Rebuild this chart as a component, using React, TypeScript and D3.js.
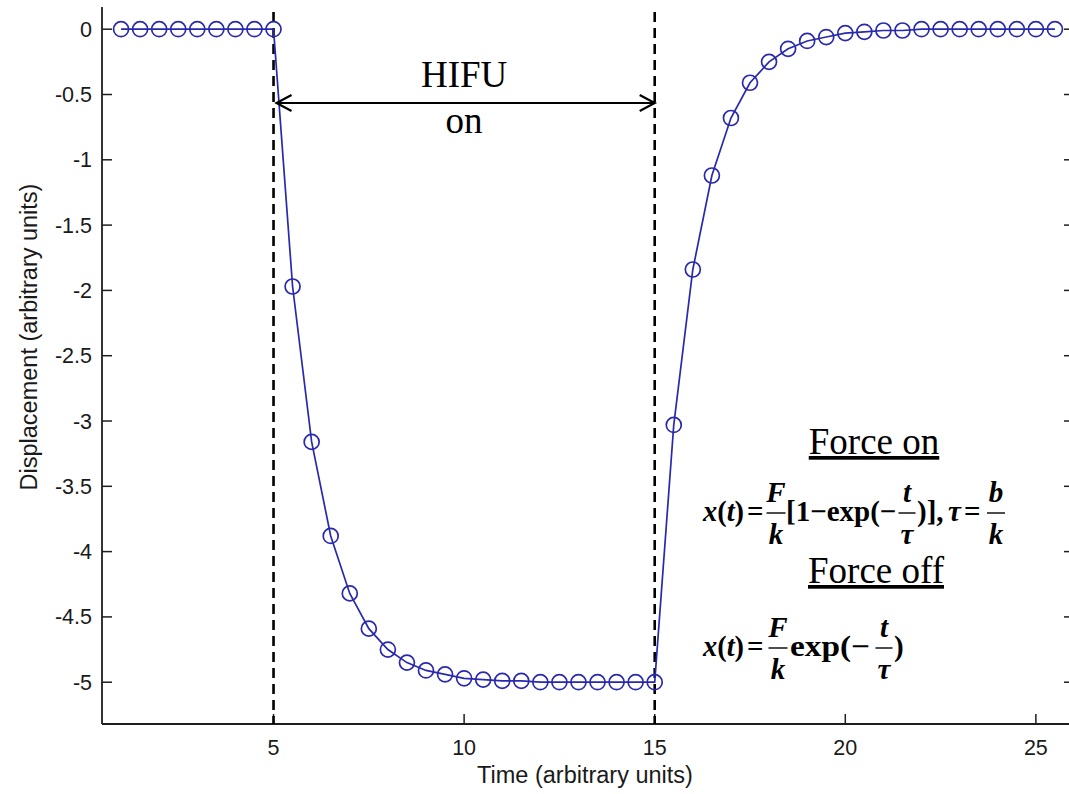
import React from "react";
import * as d3 from "d3";

// sample times (arbitrary units) and displacement
const times = [
  1, 1.5, 2, 2.5, 3, 3.5, 4, 4.5, 5,
  5.5, 6, 6.5, 7, 7.5, 8, 8.5, 9, 9.5, 10, 10.5, 11, 11.5, 12, 12.5, 13, 13.5, 14, 14.5, 15,
  15.5, 16, 16.5, 17, 17.5, 18, 18.5, 19, 19.5, 20, 20.5, 21, 21.5, 22, 22.5, 23, 23.5, 24, 24.5, 25, 25.5,
];
const displacement = [
  0, 0, 0, 0, 0, 0, 0, 0, 0,
  -1.97, -3.16, -3.88, -4.32, -4.59, -4.75, -4.85, -4.91, -4.94, -4.97, -4.98, -4.99, -4.99, -5, -5, -5, -5, -5, -5, -5,
  -3.03, -1.84, -1.12, -0.68, -0.41, -0.25, -0.15, -0.09, -0.06, -0.03, -0.02, -0.01, -0.01, 0, 0, 0, 0, 0, 0, 0, 0,
];
const xTicks = [5, 10, 15, 20, 25];
const yTicks = [0, -0.5, -1, -1.5, -2, -2.5, -3, -3.5, -4, -4.5, -5];
const hifuOn = 5;
const hifuOff = 15;

const W = 1069;
const H = 794;

const x = d3.scaleLinear().domain([0.5, 26]).range([102, 1074]);
const y = d3.scaleLinear().domain([-5.32, 0.17]).range([724, 7]);

const blue = "#2929ad";
const axisCol = "#1e1e1e";
const sans = "'Liberation Sans', Arial, sans-serif";
const serif = "'Liberation Serif', 'Times New Roman', serif";

const Frac = ({ cx, base, num, den, w }: { cx: number; base: number; num: string; den: string; w: number }) => (
  <g>
    <text x={cx} y={base - 19} textAnchor="middle" fontStyle="italic">{num}</text>
    <line x1={cx - w / 2} x2={cx + w / 2} y1={base - 8} y2={base - 8} stroke="#000" strokeWidth={1.4} />
    <text x={cx} y={base + 23} textAnchor="middle" fontStyle="italic">{den}</text>
  </g>
);

const XofT = ({ base }: { base: number }) => (
  <>
    <text x={703} y={base} textLength={41} lengthAdjust="spacingAndGlyphs">
      <tspan fontStyle="italic">x</tspan>(<tspan fontStyle="italic">t</tspan>)
    </text>
    <text x={747} y={base}>=</text>
  </>
);

export default function App() {
  const line = d3
    .line<number>()
    .x((_, i) => x(times[i]))
    .y((d) => y(d));

  const top = y.range()[1];
  const bottom = y.range()[0];
  const left = x.range()[0];
  const right = x.range()[1];
  const arrowY = 103;
  const ax1 = x(hifuOn) + 3;
  const ax2 = x(hifuOff);

  const B1 = 521;
  const B2 = 656;

  return (
    <svg width={W} height={H} style={{ position: "absolute", left: 0, top: 0, background: "#fff" }}>
      <rect width={W} height={H} fill="#fff" />

      {/* axes */}
      <line x1={left} x2={left} y1={top} y2={bottom} stroke={axisCol} strokeWidth={1.8} />
      <line x1={left} x2={right} y1={bottom} y2={bottom} stroke={axisCol} strokeWidth={1.8} />
      <line x1={right} x2={right} y1={top} y2={bottom} stroke={axisCol} strokeWidth={1.8} />

      {yTicks.map((t) => (
        <g key={"y" + t}>
          <line x1={left} x2={left + 10} y1={y(t)} y2={y(t)} stroke={axisCol} strokeWidth={1.5} />
          <line x1={right - 10} x2={right} y1={y(t)} y2={y(t)} stroke={axisCol} strokeWidth={1.5} />
          <text x={92} y={y(t) + 7.5} textAnchor="end" fontFamily={sans} fontSize={21.5} fill="#1a1a1a">
            {String(t)}
          </text>
        </g>
      ))}
      {xTicks.map((t) => (
        <g key={"x" + t}>
          <line x1={x(t)} x2={x(t)} y1={bottom} y2={bottom - 10} stroke={axisCol} strokeWidth={1.5} />
          <text x={x(t)} y={755} textAnchor="middle" fontFamily={sans} fontSize={21.5} fill="#1a1a1a">
            {t}
          </text>
        </g>
      ))}

      <text x={585} y={783} textAnchor="middle" fontFamily={sans} fontSize={23.5} fill="#1a1a1a">
        Time (arbitrary units)
      </text>
      <text
        transform="translate(37,337) rotate(-90)"
        textAnchor="middle"
        fontFamily={sans}
        fontSize={23.5}
        fill="#1a1a1a"
      >
        Displacement (arbitrary units)
      </text>

      {/* HIFU on/off markers */}
      {[hifuOn, hifuOff].map((t) => (
        <line
          key={"d" + t}
          x1={x(t)}
          x2={x(t)}
          y1={top + 5}
          y2={bottom}
          stroke="#000"
          strokeWidth={2.6}
          strokeDasharray="10,6"
        />
      ))}

      {/* data */}
      <path d={line(displacement) || ""} fill="none" stroke={blue} strokeWidth={1.7} />
      {displacement.map((d, i) => (
        <circle key={i} cx={x(times[i])} cy={y(d)} r={7.5} fill="none" stroke={blue} strokeWidth={1.7} />
      ))}

      {/* double arrow */}
      <g stroke="#000" strokeWidth={2.2} fill="none">
        <line x1={ax1} x2={ax2} y1={arrowY} y2={arrowY} />
        <polyline points={`${ax1 + 15},${arrowY - 8} ${ax1},${arrowY} ${ax1 + 15},${arrowY + 8}`} />
        <polyline points={`${ax2 - 15},${arrowY - 8} ${ax2},${arrowY} ${ax2 - 15},${arrowY + 8}`} />
      </g>
      <text x={x(10)} y={87} textAnchor="middle" fontFamily={serif} fontSize={37} fill="#000">
        HIFU
      </text>
      <text x={x(10)} y={133} textAnchor="middle" fontFamily={serif} fontSize={37} fill="#000">
        on
      </text>

      {/* equations */}
      <text x={874} y={454} textAnchor="middle" fontFamily={serif} fontSize={37} textDecoration="underline" fill="#000">
        Force on
      </text>
      <text x={876} y={583} textAnchor="middle" fontFamily={serif} fontSize={37} textDecoration="underline" fill="#000">
        Force off
      </text>

      <g fontFamily={serif} fontSize={29} fontWeight="bold" fill="#000">
        <XofT base={B1} />
        <Frac cx={776} base={B1} num="F" den="k" w={19} />
        <text x={786} y={B1}>[1−exp(−</text>
        <Frac cx={907} base={B1} num="t" den="τ" w={17} />
        <text x={917} y={B1}>)],</text>
        <text x={948} y={B1} fontStyle="italic">τ</text>
        <text x={964} y={B1}>=</text>
        <Frac cx={996} base={B1} num="b" den="k" w={18} />

        <XofT base={B2} />
        <Frac cx={778} base={B2} num="F" den="k" w={19} />
        <text x={790} y={B2} textLength={80} lengthAdjust="spacingAndGlyphs">exp(−</text>
        <Frac cx={884} base={B2} num="t" den="τ" w={17} />
        <text x={894} y={B2}>)</text>
      </g>
    </svg>
  );
}
